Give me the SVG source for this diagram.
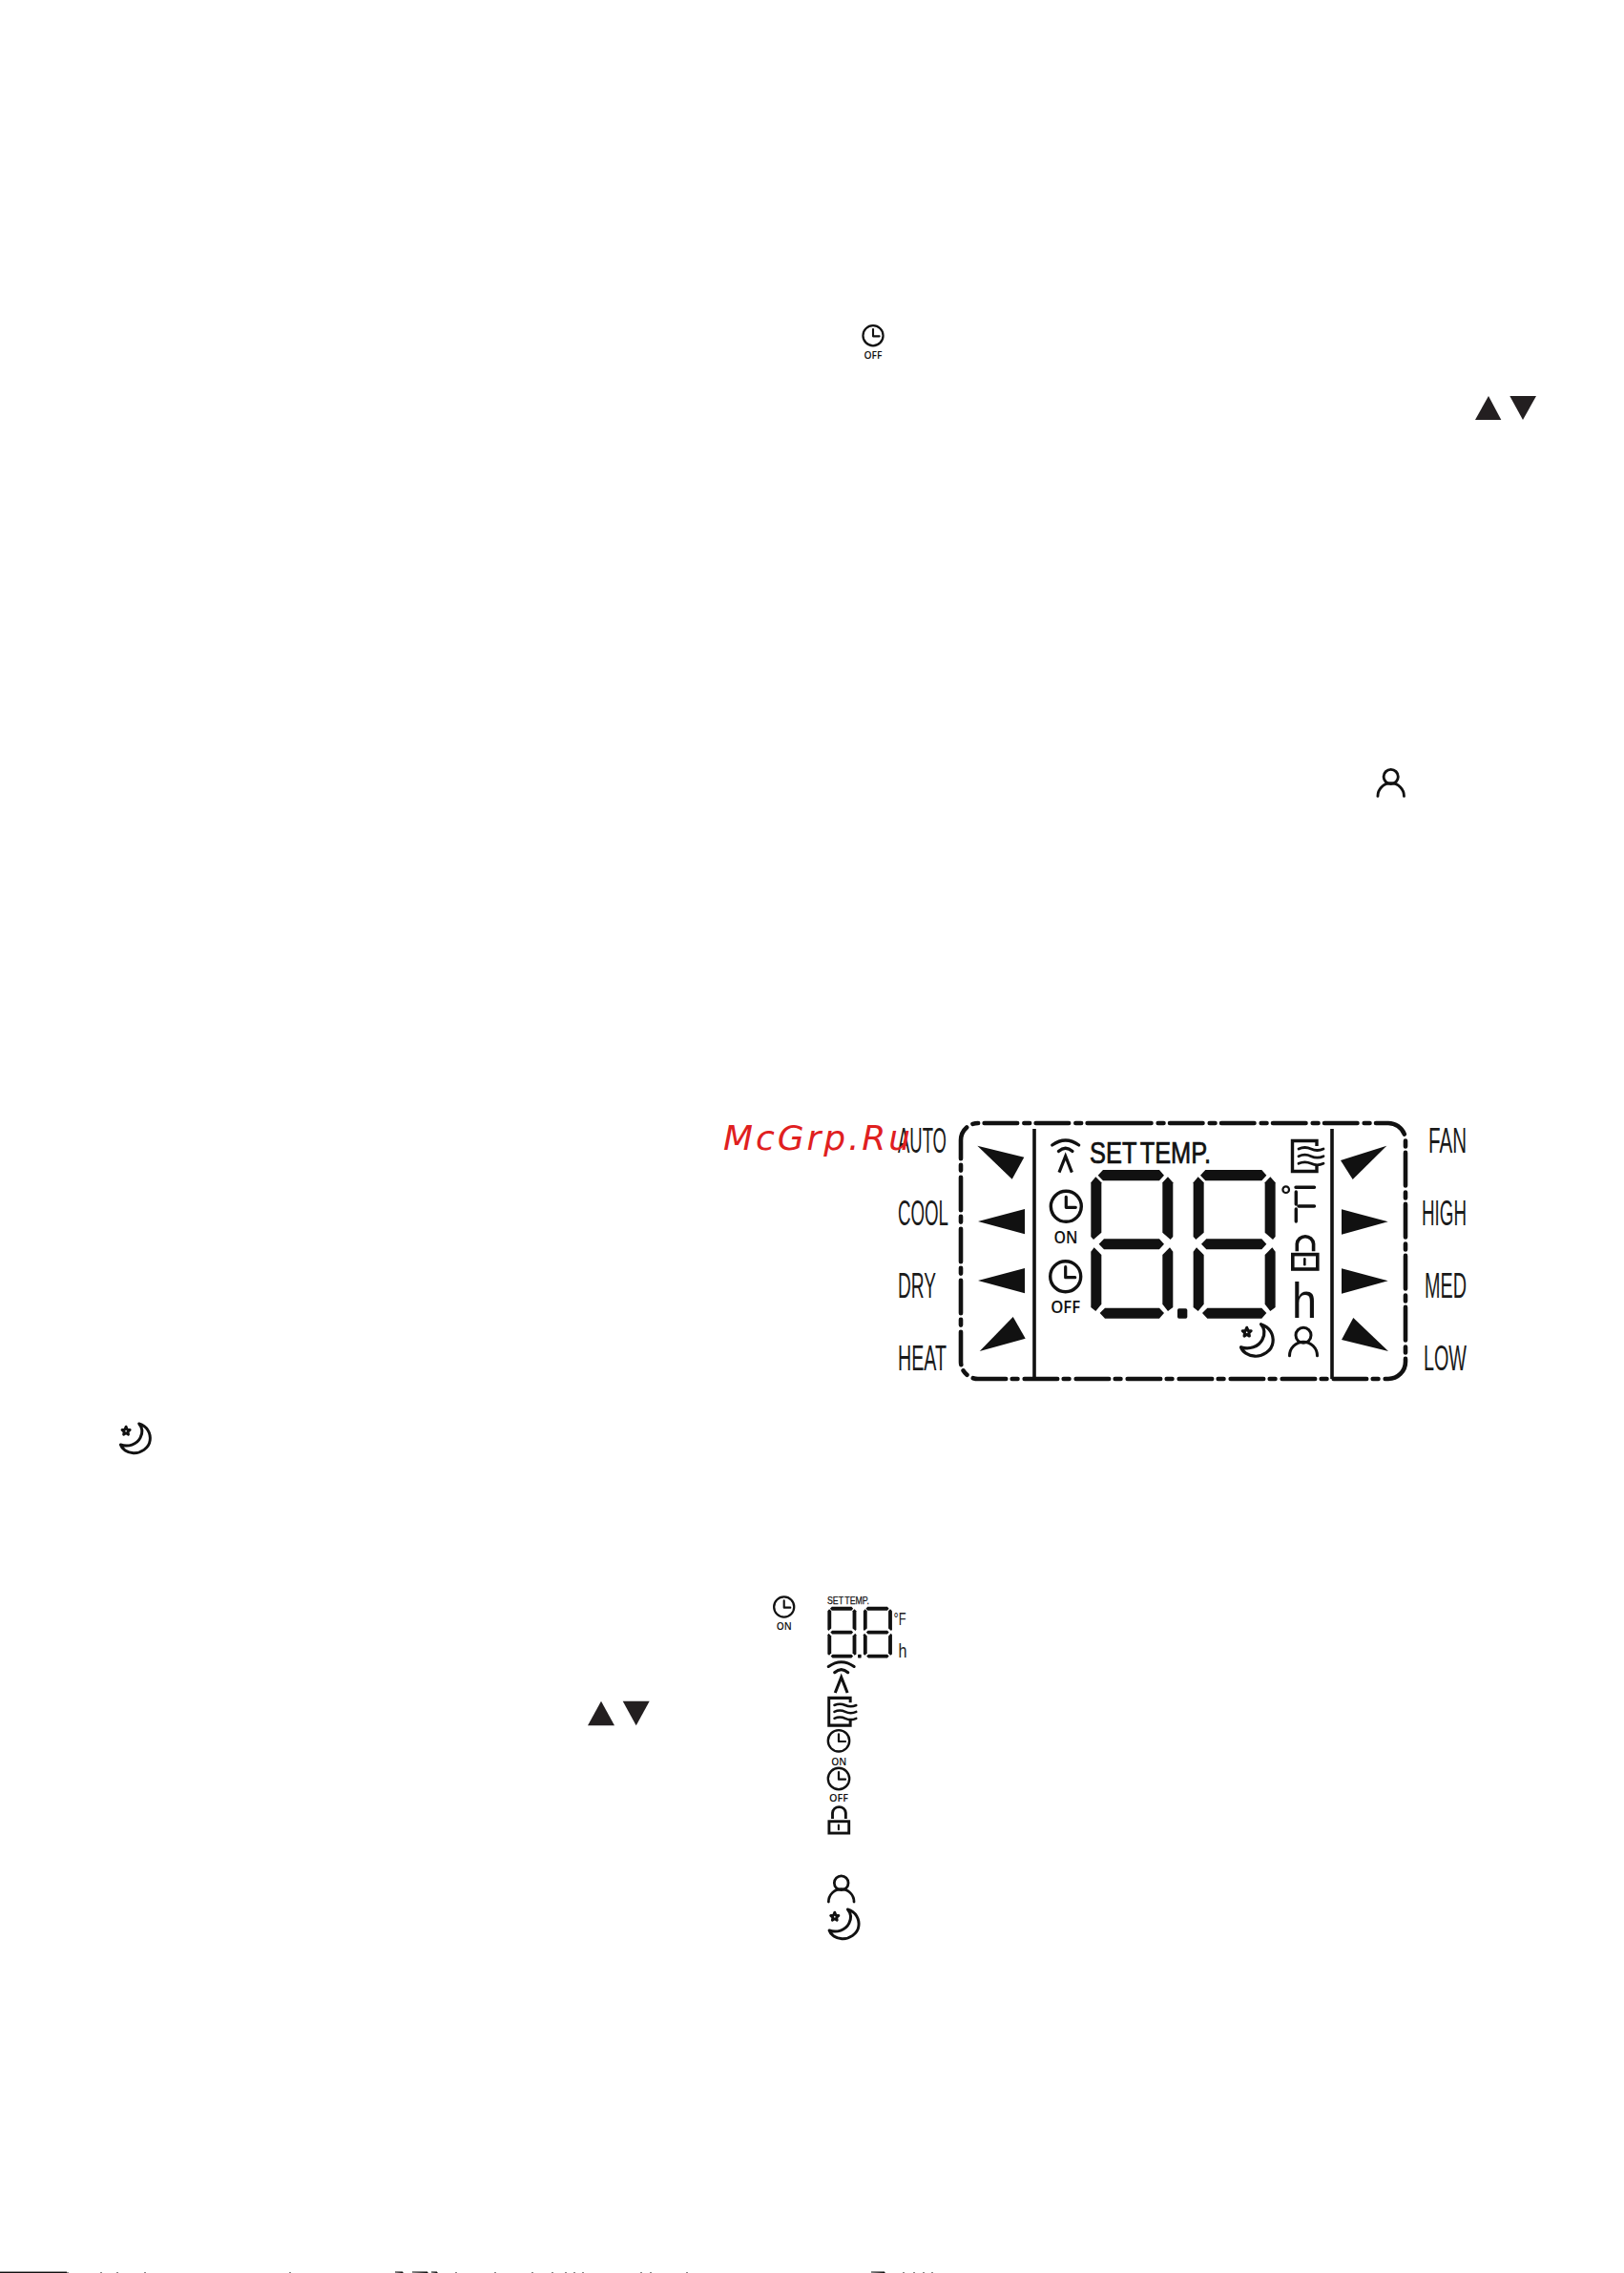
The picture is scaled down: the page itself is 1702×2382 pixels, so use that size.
<svg xmlns="http://www.w3.org/2000/svg" width="1702" height="2382" viewBox="0 0 1702 2382">
<style>
.bg{fill:#fff}
.k{fill:#111}
.tri{fill:#231f20}
.ln{fill:none;stroke:#111;stroke-linecap:round;stroke-linejoin:round}
.sq{stroke-linecap:butt;stroke-linejoin:miter}
.lab{font-family:"Liberation Sans Narrow","Liberation Sans",Arial,sans-serif;font-size:37px;fill:#1a1a1a}
.sm{font-family:"Open Sans","Liberation Sans",sans-serif;font-weight:600;fill:#111;text-anchor:middle}
.wm{font-family:"DejaVu Sans",sans-serif;font-style:oblique;font-size:36px;fill:#e0201f}
.st{font-family:"Liberation Sans",sans-serif;fill:#111;stroke:#111}
</style>
<defs>
<g id="clock"><circle class="ln" r="16" stroke-width="3.4"/><path class="ln" stroke-width="3.2" d="M0 -10V1H10"/></g>
<g id="wifi" class="ln" stroke-width="3.2"><path d="M-14 5Q0 -5 14 5"/><path d="M-7.3 11.5Q0 5 7.3 11.5"/><path class="sq" d="M-6.7 33.7L0 16.7L6.7 33.7"/></g>
<g id="fan" class="ln"><path class="sq" stroke-width="3.4" d="M27 7V1.5H1.5V33.5H27V27"/><path stroke-width="2.8" d="M8 10q6.5 -3 13 0t13 0M8 17.7q6.5 -3 13 0t13 0M8 25.3q6.5 -3 13 0t13 0"/></g>
<g id="lock" class="ln"><path class="sq" stroke-width="3.6" d="M6 18V10.2A8.7 8.7 0 0 1 23.3 10.2V18"/><rect class="sq" x="1.5" y="21.3" width="26" height="15.4" stroke-width="3.6"/><path stroke-width="2.6" d="M14 26V32"/></g>
<g id="person" class="ln" stroke-width="3"><circle r="8"/><path d="M-14.5 21.5A14.5 14.5 0 0 1 14.5 21.5"/></g>
<g id="moon" class="ln" stroke-width="3.2"><path d="M22.5 1C32 4 36 12 35 20C34 29 24 35 16 34.5C9 34 3 30 1.5 25C10 28 20 25 24 17C27 11 26 5 22.5 1Z"/><path stroke-width="3" d="M7.7 4.5L9 7.7L12.2 8L9.8 10.2L10.4 13.4L7.7 11.8L5 13.4L5.6 10.2L3.2 8L6.4 7.7Z"/></g>
<g id="digit" class="k">
<path d="M92 245L108 228H285L300 245L285 262H108Z"/>
<path d="M95 461L111 445H285L300 461L285 478H111Z"/>
<path d="M98 678L114 662H285L300 678L285 695H114Z"/>
<path d="M70 268L85 250L103 268V425L78 447L70 438Z"/>
<path d="M70 485L80 472L103 495V650L85 672L70 660Z"/>
<path d="M295 268L312 250L328 268V438L320 447L295 425Z"/>
<path d="M295 495L318 472L328 485V660L312 672L295 650Z"/>
</g>
<g id="digits"><use href="#digit"/><use href="#digit" x="322"/><rect class="k" x="342" y="664" width="31" height="31" rx="5"/></g>
</defs>
<rect class="bg" width="1702" height="2382"/>

<g id="timer-off-icon"><use href="#clock" transform="translate(915 351.7) scale(.66)"/><text class="sm" x="915" y="376" font-size="11" textLength="19" lengthAdjust="spacingAndGlyphs">OFF</text></g>
<g id="arrows-top"><path class="tri" d="M1546 440L1560 415L1573.3 440Z"/><path class="tri" d="M1582.3 415H1610L1596 440Z"/></g>
<g id="person-icon"><use href="#person" transform="translate(1457.7 814) scale(.95)"/></g>

<g id="lcd-panel">
<path class="ln" stroke-width="4.6" stroke-dasharray="34.5 7.2 5.8 6.5" d="M1172 1177H1455A18 18 0 0 1 1473 1195V1427A18 18 0 0 1 1455 1445H1025A18 18 0 0 1 1007 1427V1195A18 18 0 0 1 1025 1177H1172"/>
<rect class="k" x="1082.2" y="1183" width="3.6" height="262"/>
<rect class="k" x="1394.2" y="1183" width="3.6" height="262"/>
</g>

<g id="mode-arrows">
<path class="k" d="M1024.3 1200.7L1073.3 1212.7L1060.7 1235.7Z"/>
<path class="k" d="M1025 1280L1074 1267V1293.3Z"/>
<path class="k" d="M1025 1342L1074 1329V1355.3Z"/>
<path class="k" d="M1026.7 1416L1061.7 1380L1074.7 1402.7Z"/>
</g>
<g id="fan-arrows">
<path class="k" d="M1453.3 1200.7L1405 1216L1417.7 1236Z"/>
<path class="k" d="M1454.7 1280.3L1406 1267.3V1293.7Z"/>
<path class="k" d="M1454.7 1342.3L1406 1329.3V1355.7Z"/>
<path class="k" d="M1455 1416L1418.3 1381L1406 1404Z"/>
</g>
<g id="mode-labels">
<text class="lab" x="941" y="1208" textLength="51" lengthAdjust="spacingAndGlyphs">AUTO</text>
<text class="lab" x="941" y="1284" textLength="53" lengthAdjust="spacingAndGlyphs">COOL</text>
<text class="lab" x="941" y="1360" textLength="40" lengthAdjust="spacingAndGlyphs">DRY</text>
<text class="lab" x="941" y="1436" textLength="51" lengthAdjust="spacingAndGlyphs">HEAT</text>
</g>
<g id="fan-labels">
<text class="lab" x="1497" y="1208" textLength="40" lengthAdjust="spacingAndGlyphs">FAN</text>
<text class="lab" x="1490" y="1284" textLength="47" lengthAdjust="spacingAndGlyphs">HIGH</text>
<text class="lab" x="1493" y="1360" textLength="44" lengthAdjust="spacingAndGlyphs">MED</text>
<text class="lab" x="1492" y="1436" textLength="45" lengthAdjust="spacingAndGlyphs">LOW</text>
</g>
<g id="lcd-icons">
<use href="#wifi" transform="translate(1116.7 1195)"/>
<use href="#clock" transform="translate(1117.3 1264.3)"/>
<text class="sm" x="1117" y="1302.7" font-size="17.5" textLength="25" lengthAdjust="spacingAndGlyphs">ON</text>
<use href="#clock" transform="translate(1116.7 1337.7)"/>
<text class="sm" x="1116.7" y="1376" font-size="17.5" textLength="31" lengthAdjust="spacingAndGlyphs">OFF</text>
<text class="st" x="1142" y="1219" font-size="31" stroke-width=".7" word-spacing="-3.5" textLength="127" lengthAdjust="spacingAndGlyphs">SET TEMP.</text>
<use href="#digits" transform="translate(1120 1150) scale(.3333)"/>
<use href="#fan" transform="translate(1353 1194)"/>
<circle class="ln" cx="1347.7" cy="1246.7" r="3.3" stroke-width="2.2"/>
<path class="ln" stroke-width="3.4" d="M1358 1244.3H1377.5M1358.3 1249V1262M1361 1264H1377.5M1358.3 1267V1280"/>
<use href="#lock" transform="translate(1353.3 1293.3)"/>
<text x="1354" y="1380.7" font-family="'Liberation Sans',sans-serif" font-size="52" fill="#111" textLength="26" lengthAdjust="spacingAndGlyphs">h</text>
<use href="#moon" transform="translate(1299 1386.7)"/>
<use href="#person" transform="translate(1366 1399.3)"/>
</g>
<text id="watermark" class="wm" x="758" y="1205" textLength="196" lengthAdjust="spacing">McGrp.Ru</text>

<g id="sleep-icon"><use href="#moon" transform="translate(125 1491) scale(.92)"/></g>
<g id="arrows-mid"><path class="tri" d="M616 1808.3L630 1782.7L644 1808.3Z"/><path class="tri" d="M652.7 1782.7H680.7L666.7 1808.3Z"/></g>
<g id="timer-on-icon"><use href="#clock" transform="translate(821.7 1684) scale(.66)"/><text class="sm" x="821.7" y="1707.7" font-size="10.5" textLength="16" lengthAdjust="spacingAndGlyphs">ON</text></g>

<g id="icon-list">
<text class="st" x="867" y="1681" font-size="11" stroke-width=".25" word-spacing="-1.2" textLength="44" lengthAdjust="spacingAndGlyphs">SET TEMP.</text>
<use href="#digits" transform="translate(859.2 1657.5) scale(.1165 .115)"/>
<text x="936.5" y="1703" font-family="'Liberation Sans Narrow','Liberation Sans',sans-serif" font-size="19" fill="#222" textLength="13" lengthAdjust="spacingAndGlyphs">°F</text>
<text x="941.5" y="1737.3" font-family="'Liberation Sans Narrow','Liberation Sans',sans-serif" font-size="20" fill="#222" textLength="9" lengthAdjust="spacingAndGlyphs">h</text>
<use href="#wifi" transform="translate(881.7 1741.7) scale(.96)"/>
<use href="#fan" transform="translate(867.4 1778) scale(.88 .9)"/>
<use href="#clock" transform="translate(879 1824.3) scale(.7)"/>
<text class="sm" x="879.3" y="1850" font-size="11" textLength="16" lengthAdjust="spacingAndGlyphs">ON</text>
<use href="#clock" transform="translate(879 1864) scale(.7)"/>
<text class="sm" x="879" y="1888.3" font-size="11" textLength="20" lengthAdjust="spacingAndGlyphs">OFF</text>
<use href="#lock" transform="translate(867.7 1891.7) scale(.8)"/>
<use href="#person" transform="translate(881.7 1973.3) scale(.92)"/>
<use href="#moon" transform="translate(867.7 2000) scale(.92)"/>
</g>

<g id="page-bottom-edge">
<rect class="k" x="0" y="2380.6" width="70" height="1.4"/>
<path stroke="#111" stroke-width="1" d="M71 2381V2382M106 2381V2382M123 2381V2382M152 2381V2382M304 2381V2382M414 2381H422V2382M432 2381H448V2382M452 2381H458V2382M478 2381V2382M519 2381V2382M558 2381V2382M579 2381V2382M593 2381V2382M602 2381V2382M611 2381V2382M672 2381V2382M682 2381V2382M720 2381V2382M913 2381H927V2382M947 2381V2382M958 2381V2382M968 2381V2382M977 2381V2382"/>
</g>
</svg>
